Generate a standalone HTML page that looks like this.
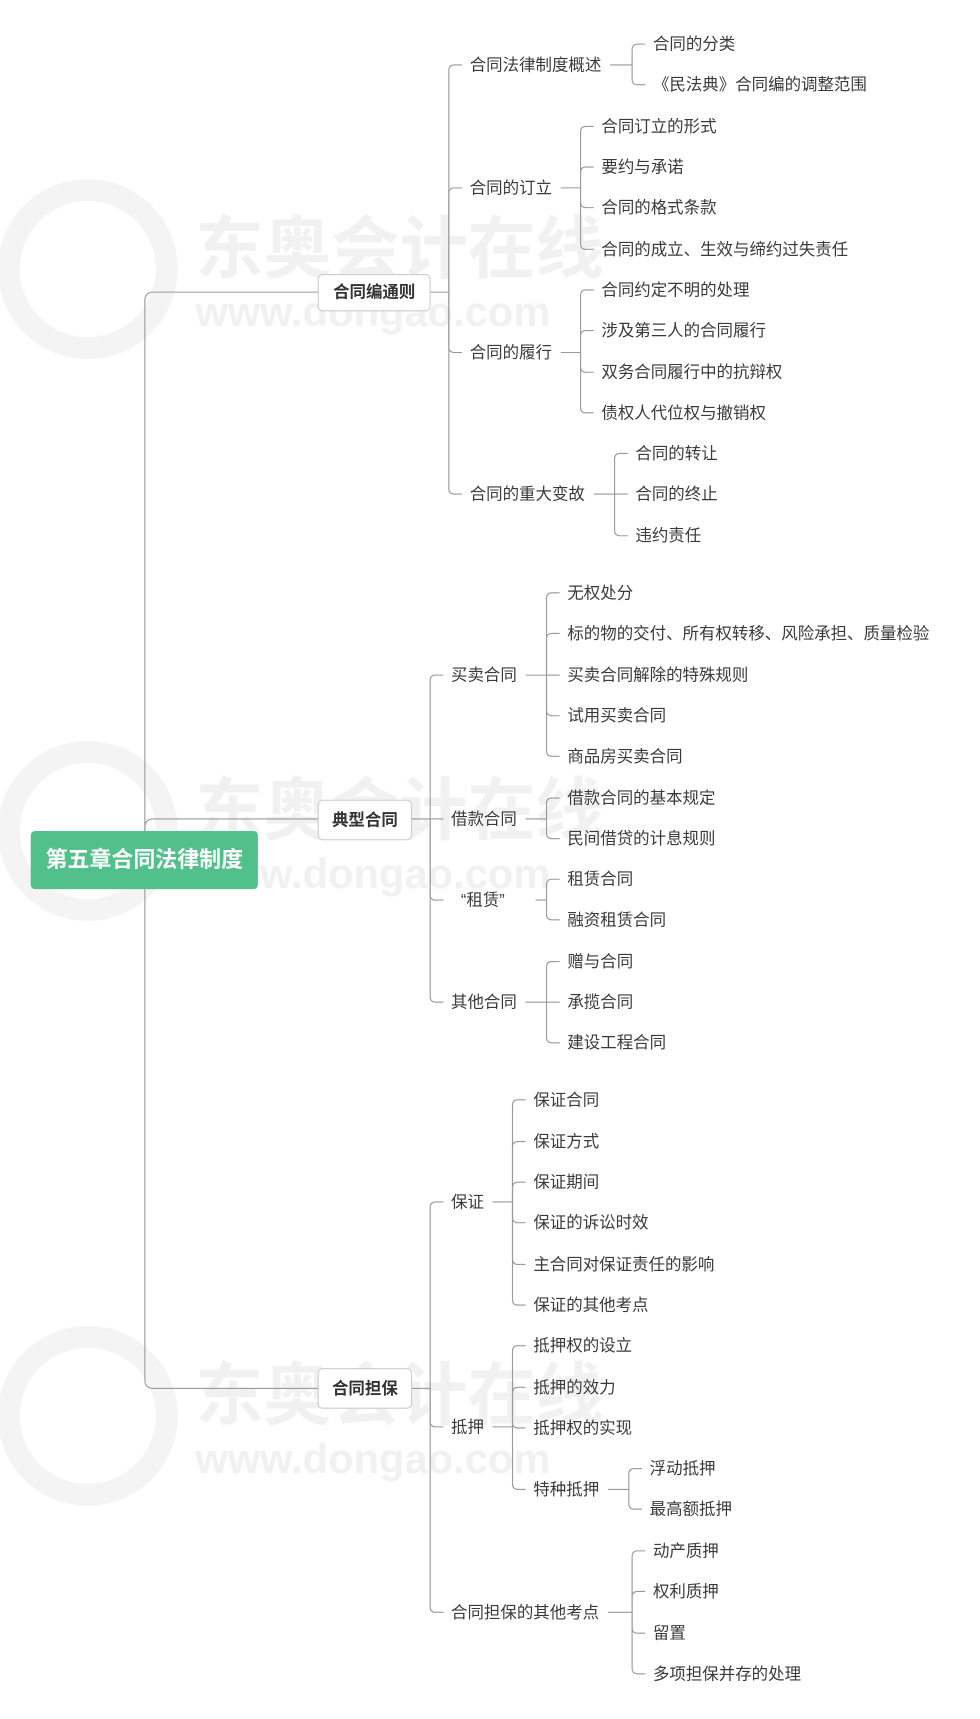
<!DOCTYPE html>
<html><head><meta charset="utf-8">
<style>
html,body{margin:0;padding:0;background:#fff;width:980px;height:1719px;overflow:hidden}
svg{display:block}
text{font-family:"Liberation Sans","Noto Sans CJK SC",sans-serif}
</style></head>
<body>
<svg id="s" width="980" height="1719" viewBox="0 0 893 1566" xmlns="http://www.w3.org/2000/svg">
<g font-weight="bold">
<circle cx="80" cy="245" r="72" fill="none" stroke="#f4f4f4" stroke-width="20"/>
<text x="178" y="248" font-size="62" fill="#f1f1f1">东奥会计在线</text>
<text x="178" y="297" font-size="38" fill="#f1f1f1">www.dongao.com</text>
<circle cx="80" cy="757" r="72" fill="none" stroke="#f4f4f4" stroke-width="20"/>
<text x="178" y="760" font-size="62" fill="#f1f1f1">东奥会计在线</text>
<text x="178" y="809" font-size="38" fill="#f1f1f1">www.dongao.com</text>
<circle cx="80" cy="1290" r="72" fill="none" stroke="#f4f4f4" stroke-width="20"/>
<text x="178" y="1293" font-size="62" fill="#f1f1f1">东奥会计在线</text>
<text x="178" y="1342" font-size="38" fill="#f1f1f1">www.dongao.com</text>
</g>
<g id="lines" fill="none" stroke="#999" stroke-width="1"></g>
<g id="txt" font-size="15" fill="#3a3a3a"></g>
</svg>
<script>
var L=document.getElementById('lines'),T=document.getElementById('txt');
function ns(t){return document.createElementNS('http://www.w3.org/2000/svg',t)}
function path(d){var p=ns('path');p.setAttribute('d',d);L.appendChild(p)}
function txt(x,y,s){if(!s)return;var t=ns('text');t.setAttribute('x',x);t.setAttribute('y',y+5);t.textContent=s;T.appendChild(t)}
function w(s){var n=0;for(var c of s){n+=(c.charCodeAt(0)>255?15:8)}return n}
function br(pe,py,tx,cx,kids){
 path('M'+pe+','+py+' L'+tx+','+py);
 var r=5;
 kids.forEach(function(k){
  var y=k[0];
  if(Math.abs(y-py)<1){path('M'+tx+','+y+' L'+(cx-7)+','+y);}
  else{var s=y<py?1:-1;path('M'+tx+','+py+' L'+tx+','+(y+s*r)+' Q'+tx+','+y+' '+(tx+r)+','+y+' L'+(cx-7)+','+y);}
  txt(cx,y,k[1]);
 });
}
function node(x,y,s,cx,ks){txt(x,y,s);br(x+w(s)+8,y,cx-19,cx,ks)}
var g=ns('g');g.innerHTML='<rect x="28" y="757" width="207" height="53" rx="4" fill="#52c08a"/><text x="131.5" y="790" font-size="20" font-weight="bold" fill="#fff" text-anchor="middle">第五章合同法律制度</text>';
[266,746,1265].forEach(function(y){var s=y<783?1:-1;
 path('M132,783 L132,'+(y+s*8)+' Q132,'+y+' 140,'+y+' L290,'+y);});
document.getElementById('s').appendChild(g);
var b=ns('g');b.innerHTML='<rect x="290" y="250" width="102" height="33" rx="4" fill="#fff" stroke="#ccc"/><text x="341" y="271" font-size="15" font-weight="bold" fill="#333" text-anchor="middle">合同编通则</text>'+
'<rect x="290" y="729" width="85" height="36" rx="4" fill="#fff" stroke="#ccc"/><text x="332.5" y="752" font-size="15" font-weight="bold" fill="#333" text-anchor="middle">典型合同</text>'+
'<rect x="290" y="1247" width="85" height="36" rx="4" fill="#fff" stroke="#ccc"/><text x="332.5" y="1270" font-size="15" font-weight="bold" fill="#333" text-anchor="middle">合同担保</text>';
document.getElementById('s').appendChild(b);
br(392,266,409,428,[[59,''],[171,''],[321,''],[450,'']]);
node(428,59,'合同法律制度概述',595,[[40,'合同的分类'],[77,'《民法典》合同编的调整范围']]);
node(428,171,'合同的订立',548,[[115,'合同订立的形式'],[152,'要约与承诺'],[189,'合同的格式条款'],[227,'合同的成立、生效与缔约过失责任']]);
node(428,321,'合同的履行',548,[[264,'合同约定不明的处理'],[301,'涉及第三人的合同履行'],[339,'双务合同履行中的抗辩权'],[376,'债权人代位权与撤销权']]);
node(428,450,'合同的重大变故',579,[[413,'合同的转让'],[450,'合同的终止'],[488,'违约责任']]);
br(375,746,392,411,[[615,''],[746,''],[820,''],[913,'']]);
node(411,615,'买卖合同',517,[[540,'无权处分'],[577,'标的物的交付、所有权转移、风险承担、质量检验'],[615,'买卖合同解除的特殊规则'],[652,'试用买卖合同'],[689,'商品房买卖合同']]);
node(411,746,'借款合同',517,[[727,'借款合同的基本规定'],[764,'民间借贷的计息规则']]);
node(420,820,'“租赁”',517,[[801,'租赁合同'],[838,'融资租赁合同']]);
node(411,913,'其他合同',517,[[876,'赠与合同'],[913,'承揽合同'],[950,'建设工程合同']]);
br(375,1265,392,411,[[1095,''],[1300,''],[1469,'']]);
node(411,1095,'保证',486,[[1002,'保证合同'],[1040,'保证方式'],[1077,'保证期间'],[1114,'保证的诉讼时效'],[1152,'主合同对保证责任的影响'],[1189,'保证的其他考点']]);
node(411,1300,'抵押',486,[[1226,'抵押权的设立'],[1264,'抵押的效力'],[1301,'抵押权的实现'],[1357,'']]);
node(486,1357,'特种抵押',592,[[1338,'浮动抵押'],[1375,'最高额抵押']]);
node(411,1469,'合同担保的其他考点',595,[[1413,'动产质押'],[1450,'权利质押'],[1488,'留置'],[1525,'多项担保并存的处理']]);
</script>
</body></html>
